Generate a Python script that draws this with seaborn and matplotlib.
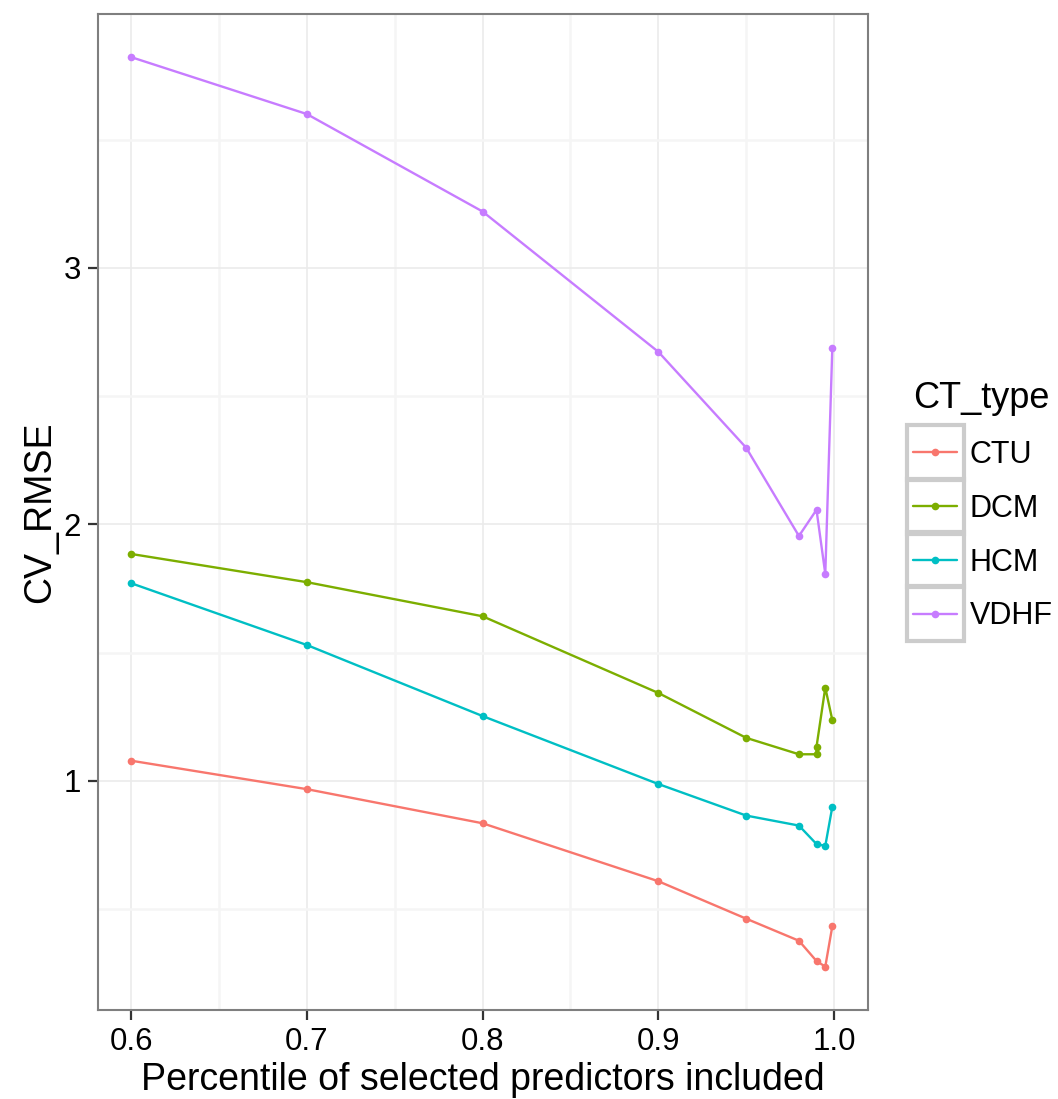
import matplotlib
matplotlib.use("Agg")
import matplotlib.pyplot as plt
import seaborn as sns
import pandas as pd
from matplotlib.lines import Line2D
from matplotlib.patches import Rectangle

# Data
ct_types = ["CTU", "DCM", "HCM", "VDHF"]
pct_common = [0.6, 0.7, 0.8, 0.9, 0.95, 0.98, 0.99, 0.995, 0.999]
pct_dcm = [0.6, 0.7, 0.8, 0.9, 0.95, 0.98, 0.99, 0.99, 0.995, 0.999]

rmse_ctu = [1.079, 0.968, 0.835, 0.609, 0.463, 0.377, 0.298, 0.276, 0.434]
rmse_dcm = [1.885, 1.775, 1.642, 1.343, 1.168, 1.104, 1.104, 1.133, 1.364, 1.237]
rmse_hcm = [1.771, 1.530, 1.253, 0.988, 0.865, 0.826, 0.754, 0.747, 0.899]
rmse_vdhf = [3.822, 3.600, 3.220, 2.673, 2.299, 1.955, 2.057, 1.807, 2.688]

x_ticks = [0.6, 0.7, 0.8, 0.9, 1.0]
x_tick_labels = ["0.6", "0.7", "0.8", "0.9", "1.0"]
y_ticks = [1, 2, 3]

colors = ["#F8766D", "#7CAE00", "#00BFC4", "#C77CFF"]

# Long-format table
frames = []
for name, xs, ys in [("CTU", pct_common, rmse_ctu), ("DCM", pct_dcm, rmse_dcm),
                     ("HCM", pct_common, rmse_hcm), ("VDHF", pct_common, rmse_vdhf)]:
    frames.append(pd.DataFrame({"pct": xs, "CV_RMSE": ys, "CT_type": name}))
df = pd.concat(frames, ignore_index=True)

sns.set_theme(style="white")
plt.rcParams["font.family"] = ["Liberation Sans", "DejaVu Sans"]
plt.rcParams["text.color"] = "black"
plt.rcParams["axes.labelcolor"] = "black"

fig = plt.figure(figsize=(10.58, 10.99), dpi=100)
ax = fig.add_axes([98 / 1058, 1 - 1010 / 1099, (868 - 98) / 1058, (1010 - 14) / 1099])

sns.lineplot(data=df, x="pct", y="CV_RMSE", hue="CT_type", hue_order=ct_types,
             palette=colors, estimator=None, marker="o", markersize=5.5,
             markeredgewidth=0, linewidth=1.7, legend=False, ax=ax, zorder=3)

ax.set_xlim(0.5812, 1.0193)
ax.set_ylim(0.107, 3.990)

ax.set_xticks(x_ticks)
ax.set_xticklabels(x_tick_labels)
ax.set_yticks(y_ticks)
ax.set_xticks([0.65, 0.75, 0.85, 0.95], minor=True)
ax.set_yticks([0.5, 1.5, 2.5, 3.5], minor=True)

ax.grid(which="major", color="#EBEBEB", linewidth=1.2, zorder=0)
ax.grid(which="minor", color="#F5F5F5", linewidth=1.8, zorder=0)
ax.set_axisbelow(True)

for sp in ax.spines.values():
    sp.set_color("#7F7F7F")
    sp.set_linewidth(1.5)

ax.tick_params(axis="both", which="major", direction="out", length=7, width=1.6,
               color="#333333", labelsize=22.5, labelcolor="black", pad=5,
               bottom=True, left=True)
ax.tick_params(axis="both", which="minor", length=0)

ax.set_xlabel("Percentile of selected predictors included", fontsize=27, labelpad=4)
ax.set_ylabel("CV_RMSE", fontsize=27, labelpad=4)

# Legend (ggplot-style boxed keys)
handles = [Line2D([0], [0], color=c, lw=1.7, marker="o", markersize=5.5,
                  markeredgewidth=0) for c in colors]
leg = fig.legend(handles, ct_types, title="CT_type", loc="upper left",
                 bbox_to_anchor=(907 / 1058, 1 - 375 / 1099), frameon=False,
                 fontsize=22, title_fontsize=26, handlelength=1.45,
                 handletextpad=0.4, labelspacing=0.78, borderaxespad=0,
                 borderpad=0.2)
leg._legend_box.align = "left"

fig.canvas.draw()
renderer = fig.canvas.get_renderer()
inv = fig.transFigure.inverted()
for line in leg.get_lines():
    bb = line.get_window_extent(renderer)
    cx = (bb.x0 + bb.x1) / 2
    cy = (bb.y0 + bb.y1) / 2
    w, h = 57, 55
    (x0, y0) = inv.transform((cx - w / 2, cy - h / 2))
    (x1, y1) = inv.transform((cx + w / 2, cy + h / 2))
    fig.patches.append(Rectangle((x0, y0), x1 - x0, y1 - y0, transform=fig.transFigure,
                                 fill=False, edgecolor="#CCCCCC", linewidth=3,
                                 figure=fig, zorder=0))

fig.savefig("out.png", dpi=100, facecolor="white")
